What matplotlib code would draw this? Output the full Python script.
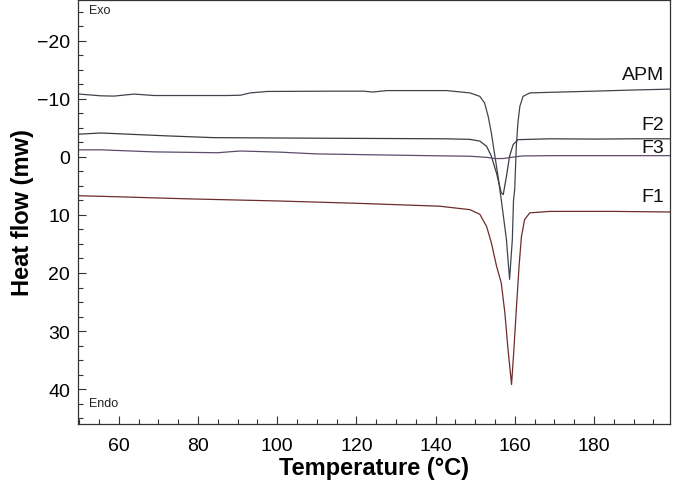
import numpy as np
import matplotlib
matplotlib.use("Agg")
import matplotlib.pyplot as plt
from matplotlib.ticker import MultipleLocator

plt.rcParams['font.family'] = ['Liberation Sans', 'DejaVu Sans']

# temperatures (degC) and heat flow (mW)
t_apm = [50, 55.5, 58.8, 63.9, 68.9, 87.4, 90.7, 93.2, 97.5, 113.4, 121.8, 124.2, 127.7,
         142.8, 148.7, 151.2, 152.4, 153.3, 154.1, 155.0, 155.8, 156.6, 157.9, 158.7,
         159.4, 159.7, 160.0, 160.4, 160.8, 161.3, 162.1, 163.8, 168.8, 180, 190, 199.2]
hf_apm = [-10.8, -10.5, -10.45, -10.8, -10.55, -10.55, -10.6, -11.0, -11.25, -11.3, -11.3,
          -11.15, -11.4, -11.4, -11.0, -10.4, -9.25, -6.95, -4.1, -0.1, 3.4, 7.4, 14.2, 21.1,
          14.2, 7.4, 5.6, -1.8, -5.8, -8.7, -10.4, -11.0, -11.1, -11.3, -11.5, -11.65]

t_f2 = [50, 55.5, 72.3, 83.9, 110.9, 142.8, 148.7, 151.2, 152.9, 154.1, 155.4, 156.6,
        157.1, 157.9, 158.7, 159.6, 160.8, 168.8, 180, 190, 199.2]
hf_f2 = [-3.9, -4.1, -3.6, -3.3, -3.2, -3.1, -3.0, -2.7, -1.8, -0.1, 2.8, 6.2,
         6.5, 3.4, -0.1, -2.1, -2.95, -3.1, -3.05, -3.1, -3.1]

t_f3 = [50, 55.5, 68.8, 84.9, 90.7, 100.8, 110.0, 137.8, 148.7, 153, 155, 157, 159,
        162, 170, 185, 199.2]
hf_f3 = [-1.2, -1.2, -0.85, -0.7, -1.0, -0.8, -0.5, -0.2, -0.1, 0.1, 0.3, 0.3, 0.1,
         -0.15, -0.2, -0.2, -0.2]

t_f1 = [50, 55.5, 70.6, 78.1, 100, 120, 141, 148.7, 151.2, 152.9, 154.1, 155.4, 156.6,
        157.5, 158.3, 159.2, 159.8, 160.4, 161.1, 161.7, 162.5, 163.8, 168.8, 185, 199.2]
hf_f1 = [6.7, 6.8, 7.1, 7.25, 7.6, 8.0, 8.5, 9.1, 9.9, 12.0, 14.8, 18.8, 21.7,
         26.8, 33.1, 39.2, 33.1, 26.3, 18.8, 13.7, 10.8, 9.65, 9.4, 9.4, 9.5]

series = [("APM", t_apm, hf_apm, "#40454d", -14.1),
          ("F2", t_f2, hf_f2, "#3c3c44", -5.5),
          ("F3", t_f3, hf_f3, "#5c4b6c", -1.6),
          ("F1", t_f1, hf_f1, "#6e2c2c", 6.85)]

fig = plt.figure(figsize=(6.74, 4.85), dpi=100)
ax = fig.add_axes([0.1162, 0.1237, 0.994 - 0.1162, 0.998 - 0.1237])

for name, t, hf, col, ly in series:
    ax.plot(t, hf, '-', lw=0.9, color=col)
    ax.text(197.8, ly, name, ha='right', va='center', fontsize=14, color='#111111')

ax.set_xlim(49.8, 199.2)
ax.set_ylim(46, -27)

ax.xaxis.set_major_locator(MultipleLocator(20))
ax.xaxis.set_minor_locator(MultipleLocator(5))
ax.yaxis.set_major_locator(MultipleLocator(10))
ax.yaxis.set_minor_locator(MultipleLocator(2.5))
ax.tick_params(which='both', direction='in', color='#333333', width=0.8)
ax.tick_params(which='major', length=6, labelsize=14)
ax.tick_params(which='minor', length=3.5)
ax.tick_params(axis='x', which='major', pad=9)
ax.tick_params(axis='y', which='major', pad=6)

ax.set_xticks([60, 80, 100, 120, 140, 160, 180])
ax.set_yticks([-20, -10, 0, 10, 20, 30, 40])

for sp in ax.spines.values():
    sp.set_color('#333333')
    sp.set_linewidth(0.9)

ax.text(52.5, -25.3, "Exo", fontsize=9, va='center', ha='left', color='#222222')
ax.text(52.5, 42.4, "Endo", fontsize=9, va='center', ha='left', color='#222222')

ax.set_xlabel("Temperature (°C)", fontsize=17, fontweight='bold', labelpad=2)
ax.set_ylabel("Heat flow (mw)", fontsize=17, fontweight='bold', labelpad=2)

fig.savefig("out.png", dpi=100)
